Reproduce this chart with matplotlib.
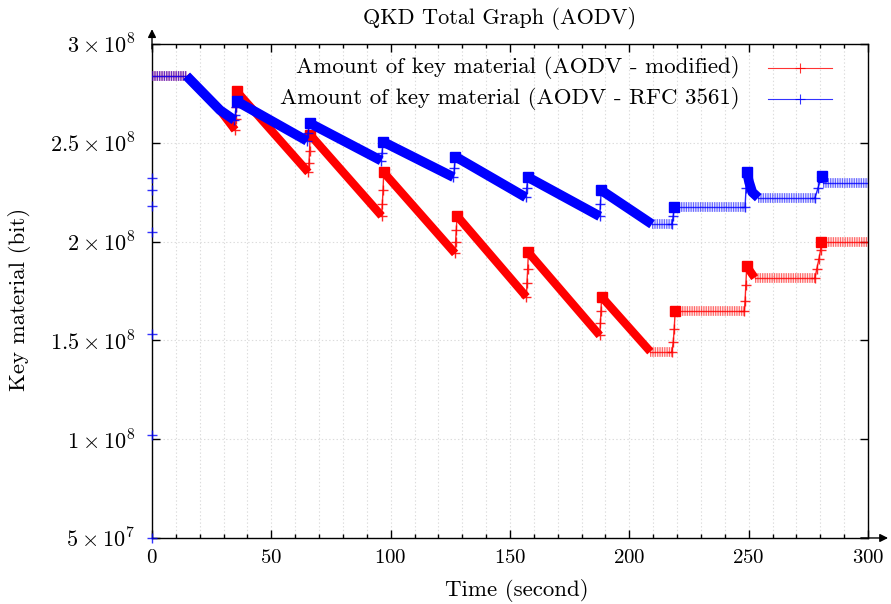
import numpy as np
import matplotlib
matplotlib.use("Agg")
from matplotlib import pyplot as plt
from matplotlib.ticker import MultipleLocator, FuncFormatter

plt.rcParams["font.family"] = "serif"
plt.rcParams["font.serif"] = ["cmr10", "DejaVu Serif"]
plt.rcParams["mathtext.fontset"] = "cm"
plt.rcParams["axes.formatter.use_mathtext"] = True
plt.rcParams["lines.scale_dashes"] = False

# values (time in s, key material in bit)
red_t = [0, 14.5, 28.5, 34.8, 35.0, 35.2, 35.5, 65.5, 65.8, 66.0, 66.3,
         96.2, 96.5, 96.8, 97.1, 127.0, 127.2, 127.5, 127.8, 156.9, 157.1,
         157.4, 157.7, 187.6, 187.9, 188.1, 188.4, 208.8, 217.8, 218.4,
         218.8, 219.2, 248.2, 248.5, 248.8, 249.2, 252.5, 277.8, 278.5,
         279.4, 280.1, 280.4, 300]
red_v = [2.838e8, 2.838e8, 2.665e8, 2.565e8, 2.62e8, 2.68e8, 2.76e8, 2.35e8,
         2.40e8, 2.46e8, 2.54e8, 2.13e8, 2.19e8, 2.26e8, 2.35e8, 1.94e8,
         2.00e8, 2.06e8, 2.13e8, 1.72e8, 1.79e8, 1.86e8, 1.945e8, 1.525e8,
         1.59e8, 1.65e8, 1.72e8, 1.443e8, 1.443e8, 1.49e8, 1.56e8, 1.648e8,
         1.648e8, 1.70e8, 1.78e8, 1.875e8, 1.817e8, 1.817e8, 1.86e8, 1.91e8,
         1.955e8, 1.997e8, 1.997e8]

blue_t = [0, 14.5, 28.5, 34.5, 34.9, 35.2, 35.5, 64.9, 65.4, 66.0, 96.0,
          96.4, 96.8, 126.3, 126.7, 127.1, 156.6, 157.0, 157.5, 187.6, 187.9,
          188.2, 209.5, 217.9, 218.4, 218.9, 248.5, 248.9, 249.3, 250.2,
          251.5, 254.0, 277.8, 279.0, 280.6, 281.0, 300]
blue_v = [2.838e8, 2.838e8, 2.665e8, 2.615e8, 2.64e8, 2.68e8, 2.71e8, 2.51e8,
          2.55e8, 2.60e8, 2.41e8, 2.45e8, 2.505e8, 2.326e8, 2.37e8, 2.43e8,
          2.224e8, 2.27e8, 2.326e8, 2.128e8, 2.19e8, 2.26e8, 2.088e8, 2.088e8,
          2.13e8, 2.177e8, 2.177e8, 2.27e8, 2.352e8, 2.30e8, 2.25e8, 2.222e8,
          2.222e8, 2.27e8, 2.33e8, 2.297e8, 2.297e8]

# stray samples at t = 0
blue_start_t = [0, 0, 0, 0, 0, 0, 0]
blue_start_v = [0.5e8, 1.02e8, 1.53e8, 2.05e8, 2.18e8, 2.26e8, 2.32e8]

labels = ["Amount of key material (AODV - modified)",
          "Amount of key material (AODV - RFC 3561)"]


def kind(t0, t1, v0, v1):
    if v0 == v1:
        return "flat"
    if v1 > v0 and (v1 - v0) / max(t1 - t0, 1e-9) > 0.02e8:
        return "jump"
    return "band"


def draw_series(ax, t, v, color, band_lw, z):
    runs = []
    for i in range(len(t) - 1):
        k = kind(t[i], t[i + 1], v[i], v[i + 1])
        if runs and runs[-1][0] == k:
            runs[-1][1].append(i + 1)
        else:
            runs.append([k, [i, i + 1]])
    for k, idx in runs:
        xs = [t[j] for j in idx]
        ys = [v[j] for j in idx]
        if k == "band":
            ax.plot(xs, ys, color=color, lw=band_lw, solid_capstyle="butt",
                    solid_joinstyle="round", zorder=z)
        elif k == "flat":
            ax.plot(xs, ys, color=color, lw=7.0, alpha=0.7,
                    dashes=(0.6, 0.65), dash_capstyle="butt", zorder=z)
            ax.plot(xs, ys, color=color, lw=1.0, alpha=0.8, zorder=z)
        else:
            ax.plot(xs, ys, color=color, lw=1.0, marker="+", ms=7, mew=1.0,
                    alpha=0.85, zorder=z)
            ax.plot(xs[-1], ys[-1], marker="s", ms=6.5, color=color, zorder=z)


def sci(val, pos):
    if val <= 0:
        return ""
    e = int(np.floor(np.log10(val) + 1e-9))
    m = val / 10 ** e
    return r"$%g \times 10^{%d}$" % (round(m, 2), e)


fig = plt.figure(figsize=(8.91, 6.04), dpi=100)
ax = fig.add_axes([0.1706, 0.1093, 0.8036, 0.8179])

draw_series(ax, red_t, red_v, "#ff0000", 6.0, 3)
draw_series(ax, blue_t, blue_v, "#0000ff", 7.0, 5)
ax.plot(blue_start_t, blue_start_v, ls="none", marker="+", ms=7, mew=1.0,
        color="#0000ff", alpha=0.8, clip_on=False, zorder=6)

ax.set_xlim(0, 300)
ax.set_ylim(5e7, 3e8)
ax.xaxis.set_major_locator(MultipleLocator(50))
ax.xaxis.set_minor_locator(MultipleLocator(10))
ax.yaxis.set_major_locator(MultipleLocator(5e7))
ax.yaxis.set_major_formatter(FuncFormatter(sci))
ax.tick_params(which="both", direction="in", top=True, right=True,
               width=1.0)
ax.tick_params(axis="x", labelsize=15, pad=8)
ax.tick_params(axis="y", labelsize=16, pad=12)
ax.tick_params(which="major", length=6)
ax.tick_params(which="minor", length=3)
ax.grid(which="minor", axis="x", color="#dcdcdc", ls=":", lw=0.8)
ax.grid(which="major", axis="x", color="#dcdcdc", ls=":", lw=0.8)
ax.grid(which="major", axis="y", color="#dcdcdc", ls=":", lw=0.8)
ax.set_axisbelow(True)
for s in ax.spines.values():
    s.set_linewidth(1.0)

# axis arrows
ax.annotate("", xy=(0, 1.03), xytext=(0, 0.99), xycoords="axes fraction",
            arrowprops=dict(arrowstyle="-|>", color="k", lw=1.0,
                            mutation_scale=12, shrinkA=0, shrinkB=0))
ax.annotate("", xy=(1.028, 0), xytext=(0.99, 0), xycoords="axes fraction",
            arrowprops=dict(arrowstyle="-|>", color="k", lw=1.0,
                            mutation_scale=12, shrinkA=0, shrinkB=0))

# legend drawn by hand: right-aligned text, sample on the right
for i, (lab, col) in enumerate(zip(labels, ["#ff0000", "#0000ff"])):
    y = 0.952 - i * 0.063
    ax.text(0.821, y, lab, transform=ax.transAxes, ha="right", va="center",
            fontsize=16.5)
    ax.plot([0.860, 0.950], [y, y], color=col, lw=0.8, alpha=0.8,
            transform=ax.transAxes)
    ax.plot([0.905], [y], color=col, marker="+", ms=7, mew=0.8, alpha=0.8,
            transform=ax.transAxes)

fig.text(0.561, 0.97, "QKD Total Graph (AODV)", ha="center", va="center",
         fontsize=16)
fig.text(0.58, 0.023, "Time (second)", ha="center", va="center",
         fontsize=16.5)
fig.text(0.022, 0.505, "Key material (bit)", ha="center", va="center",
         rotation=90, fontsize=16.5)

fig.savefig("out.png", dpi=100)
